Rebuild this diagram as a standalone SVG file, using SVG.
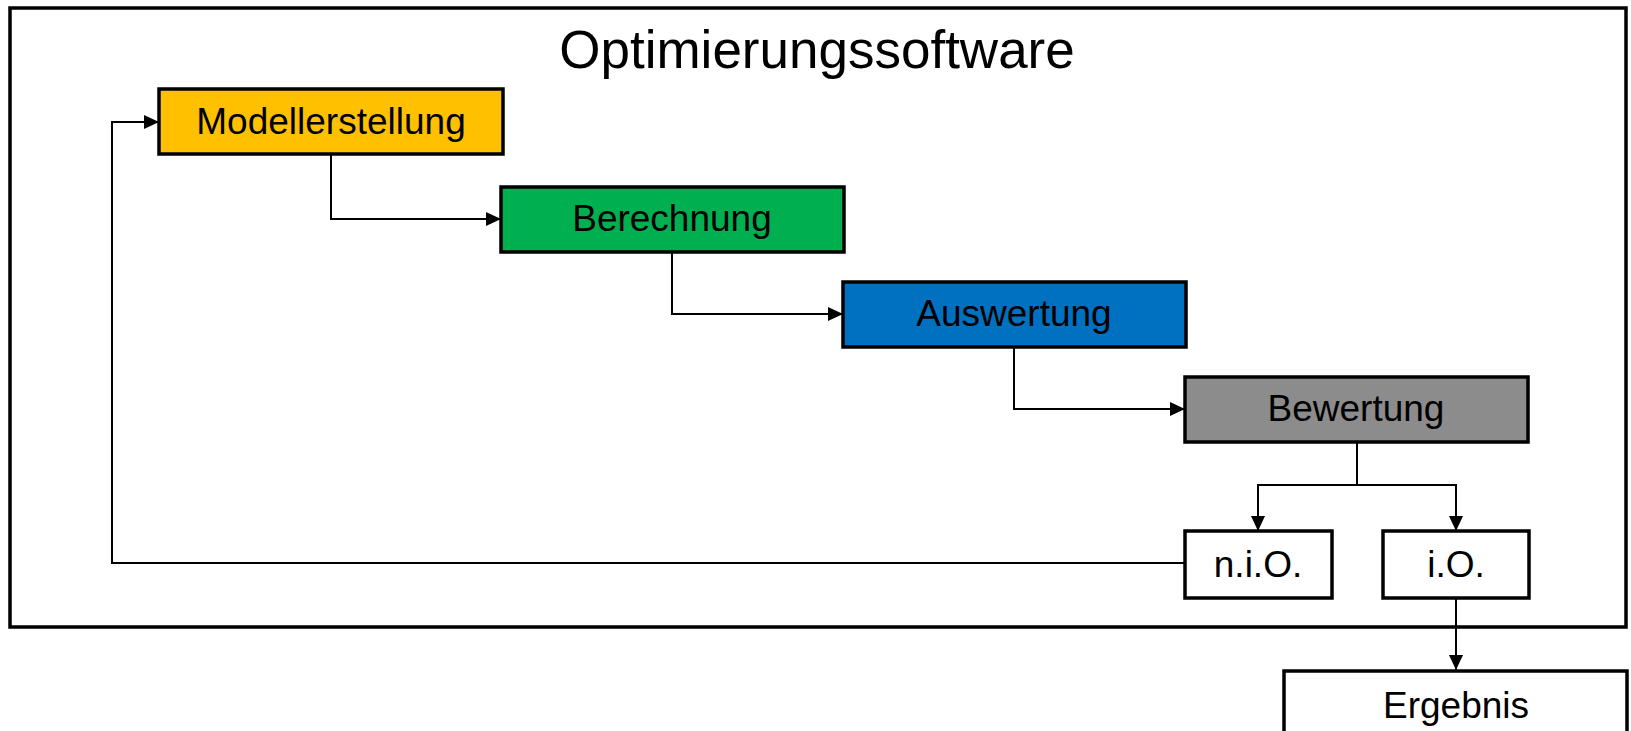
<svg xmlns="http://www.w3.org/2000/svg" width="1631" height="731" viewBox="0 0 1631 731">
  <style>
    .box { stroke: #000; stroke-width: 3.5; }
    .lbl { font-family: "Liberation Sans", Arial, sans-serif; font-size: 37px; fill: #000; text-anchor: middle; }
    .title { font-family: "Liberation Sans", Arial, sans-serif; font-size: 53px; fill: #000; text-anchor: middle; }
    .conn { fill: none; stroke: #000; stroke-width: 2; }
  </style>
  <defs>
    <marker id="arrow" markerUnits="userSpaceOnUse" markerWidth="16" markerHeight="14" refX="15" refY="7" orient="auto">
      <path d="M0,0 L15,7 L0,14 Z" fill="#000"/>
    </marker>
  </defs>
  <rect width="1631" height="731" fill="#fff"/>

  <!-- container frame -->
  <g id="optimierungssoftware">
    <rect x="10" y="8" width="1616" height="619" fill="none" stroke="#000" stroke-width="3.5"/>
    <text class="title" x="817" y="68">Optimierungssoftware</text>
  </g>

  <g id="connectors">
    <path class="conn" d="M331,155 V219 H501" marker-end="url(#arrow)"/>
    <path class="conn" d="M672,252 V314 H843" marker-end="url(#arrow)"/>
    <path class="conn" d="M1014,347 V409 H1185" marker-end="url(#arrow)"/>
    <path class="conn" d="M1357,442 V485 H1258 V531" marker-end="url(#arrow)"/>
    <path class="conn" d="M1357,485 H1456 V531" marker-end="url(#arrow)"/>
    <path class="conn" d="M1185,563 H112 V122 H159" marker-end="url(#arrow)"/>
    <path class="conn" d="M1456,598 V670" marker-end="url(#arrow)"/>
  </g>

  <g id="modellerstellung">
    <rect class="box" x="159" y="89" width="344" height="65" fill="#FFC000"/>
    <text class="lbl" x="331" y="134">Modellerstellung</text>
  </g>
  <g id="berechnung">
    <rect class="box" x="501" y="187" width="343" height="65" fill="#00B050"/>
    <text class="lbl" x="672" y="231">Berechnung</text>
  </g>
  <g id="auswertung">
    <rect class="box" x="843" y="282" width="343" height="65" fill="#0070C0"/>
    <text class="lbl" x="1014" y="326">Auswertung</text>
  </g>
  <g id="bewertung">
    <rect class="box" x="1185" y="377" width="343" height="65" fill="#8C8C8C"/>
    <text class="lbl" x="1356" y="421">Bewertung</text>
  </g>
  <g id="nio">
    <rect class="box" x="1185" y="531" width="147" height="67" fill="#fff"/>
    <text class="lbl" x="1258" y="577">n.i.O.</text>
  </g>
  <g id="io">
    <rect class="box" x="1383" y="531" width="146" height="67" fill="#fff"/>
    <text class="lbl" x="1456" y="577">i.O.</text>
  </g>
  <g id="ergebnis">
    <rect class="box" x="1284" y="671" width="343" height="75" fill="#fff"/>
    <text class="lbl" x="1456" y="718">Ergebnis</text>
  </g>
</svg>
